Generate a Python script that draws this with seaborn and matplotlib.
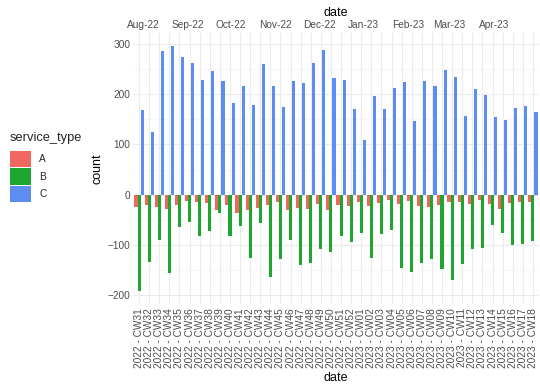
import numpy as np
import pandas as pd
import matplotlib
matplotlib.use("Agg")
import matplotlib.pyplot as plt
from matplotlib.patches import Patch
from matplotlib.ticker import MultipleLocator
import seaborn as sns
import datetime as dt

weeks = [f"2022 - CW{w}" for w in range(31, 53)] + [f"2023 - CW{w:02d}" for w in range(1, 19)]

count_A = [-25, -20, -25, -28, -20, -13, -15, -17, -30, -20, -36, -31, -27, -20,
           -15, -30, -27, -29, -18, -30, -20, -23, -15, -23, -17, -10, -18,
           -13, -22, -25, -20, -15, -15, -18, -10, -18, -29, -17, -15, -15]
count_B = [-193, -134, -90, -156, -65, -54, -83, -72, -37, -83, -62, -126, -56, -164,
           -129, -91, -141, -136, -108, -114, -83, -94, -76, -126, -78, -70, -146,
           -154, -137, -129, -148, -171, -139, -108, -106, -60, -76, -100, -98, -93]
count_C = [168, 125, 287, 296, 275, 263, 229, 247, 226, 183, 216, 178, 261, 216,
           175, 226, 223, 263, 288, 232, 228, 170, 109, 196, 170, 212, 224, 146,
           226, 216, 249, 235, 156, 211, 198, 155, 149, 172, 177, 165]

service_types = ["A", "B", "C"]
colors = ["#F0675F", "#1FA62F", "#5B8EF0"]

month_labels = ["Aug-22", "Sep-22", "Oct-22", "Nov-22", "Dec-22", "Jan-23", "Feb-23", "Mar-23", "Apr-23"]
month_dates = [dt.date(2022, 8, 1), dt.date(2022, 9, 1), dt.date(2022, 10, 1), dt.date(2022, 11, 1),
               dt.date(2022, 12, 1), dt.date(2023, 1, 1), dt.date(2023, 2, 1), dt.date(2023, 3, 1),
               dt.date(2023, 4, 1)]
first_week_start = dt.date(2022, 8, 1)  # Monday of 2022-CW31

df = pd.DataFrame({
    "date": weeks * 3,
    "service_type": ["A"] * len(weeks) + ["B"] * len(weeks) + ["C"] * len(weeks),
    "count": count_A + count_B + count_C,
})

sns.set_theme(style="white")
plt.rcParams["font.family"] = ["Liberation Sans", "DejaVu Sans"]

fig = plt.figure(figsize=(5.4, 3.86), dpi=100)
ax = fig.add_axes([133 / 540, 1 - 304 / 386, (539 - 133) / 540, (304 - 33) / 386])

sns.barplot(data=df, x="date", y="count", hue="service_type", hue_order=service_types,
            palette=colors, width=0.92, gap=0, dodge=True, ax=ax, legend=False, saturation=1,
            errorbar=None, linewidth=0, edgecolor="none")

ax.set_xlim(-0.6, len(weeks) - 1 + 0.6)
ax.set_ylim(-218, 322)
ax.yaxis.set_major_locator(MultipleLocator(100))
ax.set_yticks([-150, -50, 50, 150, 250], minor=True)
ax.set_axisbelow(True)
ax.grid(which="major", axis="both", color="#EBEBEB", lw=0.8)
ax.grid(which="minor", axis="y", color="#F2F2F2", lw=0.45)
for s in ax.spines.values():
    s.set_visible(False)
ax.tick_params(axis="both", which="both", length=0, colors="#4D4D4D", labelsize=7.3, pad=2)
ax.tick_params(axis="x", pad=3)
plt.setp(ax.get_xticklabels(), rotation=90)
ax.set_xlabel("date", fontsize=9, color="black", labelpad=3)
ax.set_ylabel("count", fontsize=9, color="black", labelpad=3)

# secondary date axis on top
top = ax.twiny()
top.set_xlim(ax.get_xlim())
pos = [(d - first_week_start).days / 7 + 0.4 for d in month_dates]
top.set_xticks(pos)
top.set_xticklabels(month_labels)
top.tick_params(axis="x", length=0, colors="#4D4D4D", labelsize=7.3, pad=2)
top.set_xlabel("date", fontsize=9, color="black", labelpad=3)
for s in top.spines.values():
    s.set_visible(False)
top.grid(False)

handles = [Patch(facecolor=c, edgecolor="none", label=l) for c, l in zip(colors, service_types)]
leg = fig.legend(handles=handles, title="service_type", loc="upper left",
                 bbox_to_anchor=(10 / 540, 1 - 132 / 386), frameon=False,
                 fontsize=7.3, title_fontsize=9.3, handlelength=2.1, handleheight=2.1,
                 labelspacing=0.12, handletextpad=0.8, borderpad=0, borderaxespad=0)
leg._legend_box.align = "left"
leg._legend_box.sep = 5

fig.savefig("out.png", dpi=100)
